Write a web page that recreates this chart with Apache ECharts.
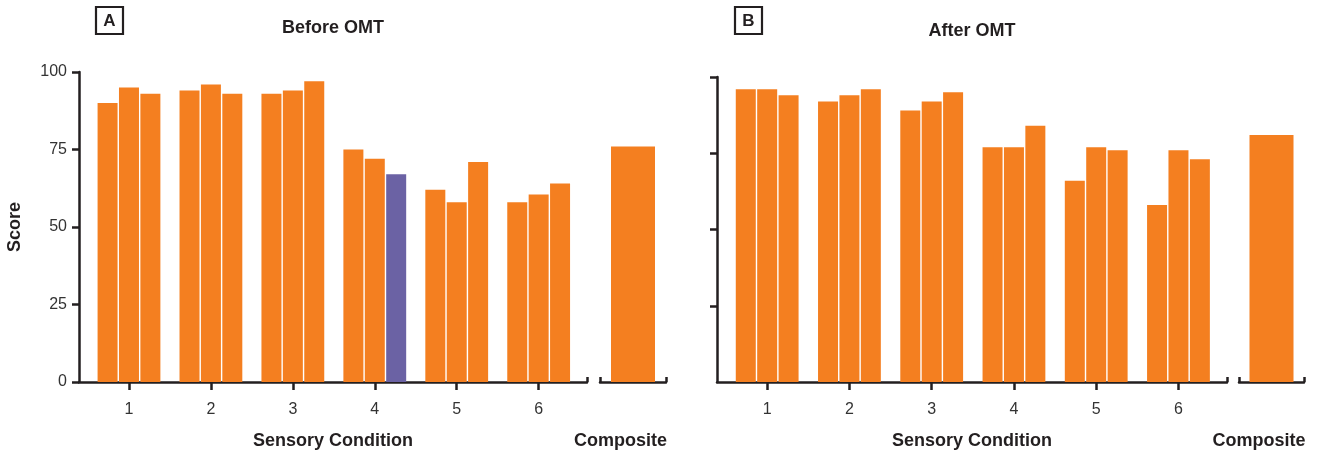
<!DOCTYPE html>
<html>
<head>
<meta charset="utf-8">
<script src="https://cdn.jsdelivr.net/npm/echarts@6/dist/echarts.min.js"></script>
<style>
  html, body { margin: 0; padding: 0; background: #fff; }
  #chart { width: 1318px; height: 455px; }
</style>
</head>
<body>
<div id="chart"></div>
<script>
// sensory conditions 1..6, three trials each
const conditions = [1, 2, 3, 4, 5, 6]
const beforeTrial1 = [90, 94, 93, 75, 62, 58]
const beforeTrial2 = [95, 96, 94, 72, 58, 60.5]
const beforeTrial3 = [93, 93, 97, 67, 71, 64]
const beforeComposite = [76]
const afterTrial1 = [96, 92, 89, 77, 66, 58]
const afterTrial2 = [96, 94, 92, 77, 77, 76]
const afterTrial3 = [94, 96, 95, 84, 76, 73]
const afterComposite = [81]
const scoreTicks = [0, 25, 50, 75, 100]
// bar drawn in purple: before OMT, condition 4, trial 3
const highlighted = { trial: 3, condition: 4 }

const ORANGE = '#F47F20'
const PURPLE = '#6B62A4'
const INK = '#231F20'
const FONT = 'Liberation Sans, Arial, sans-serif'
const LINE_W = 2.5

const chart = echarts.init(document.getElementById('chart'))

function trialData(values, trial, panel) {
  return values.map((v, i) => {
    const item = { value: [conditions[i], v] }
    if (panel === 'before' && trial === highlighted.trial && conditions[i] === highlighted.condition) {
      item.itemStyle = { color: PURPLE }
    }
    return item
  })
}

function mainX(gridIndex) {
  return {
    type: 'value', gridIndex, position: 'bottom',
    min: 0.39, max: 6.59,
    name: 'Sensory Condition', nameLocation: 'middle', nameGap: 50,
    nameTextStyle: { fontFamily: FONT, fontWeight: 'bold', fontSize: 18, color: INK },
    axisLine: { onZero: false, lineStyle: { color: INK, width: LINE_W } },
    axisTick: { customValues: conditions, length: 8, lineStyle: { color: INK, width: LINE_W } },
    axisLabel: { customValues: conditions, margin: 20, fontFamily: FONT, fontSize: 16, color: '#333' },
    splitLine: { show: false }
  }
}

// extra axis on the same grid that only draws the upward end tick
function endTickX(gridIndex) {
  return {
    type: 'value', gridIndex, position: 'bottom',
    min: 0.39, max: 6.59,
    axisLine: { show: false },
    axisTick: { inside: true, customValues: [6.59], length: 5, lineStyle: { color: INK, width: LINE_W } },
    axisLabel: { show: false },
    splitLine: { show: false }
  }
}

function compositeX(gridIndex) {
  return {
    type: 'category', gridIndex, position: 'bottom', data: ['Composite'], boundaryGap: true,
    name: 'Composite', nameLocation: 'middle', nameGap: 50,
    nameTextStyle: { fontFamily: FONT, fontWeight: 'bold', fontSize: 18, color: INK, padding: [0, 25, 0, 0] },
    axisLine: { show: true, onZero: false, lineStyle: { color: INK, width: LINE_W } },
    axisTick: { show: true, inside: true, interval: 0, alignWithLabel: false, length: 5,
      lineStyle: { color: INK, width: LINE_W } },
    axisLabel: { show: true, interval: 0, formatter: () => '' },
    splitLine: { show: false }
  }
}

function scoreY(gridIndex, visible, labels) {
  return {
    type: 'value', gridIndex, min: 0, max: 100, interval: 25,
    show: visible,
    name: labels ? 'Score' : '', nameLocation: 'middle', nameGap: 55,
    nameTextStyle: { fontFamily: FONT, fontWeight: 'bold', fontSize: 18, color: INK },
    axisLine: { show: true, lineStyle: { color: INK, width: LINE_W } },
    axisTick: { show: true, length: 7, lineStyle: { color: INK, width: LINE_W },
      customValues: labels ? scoreTicks : scoreTicks.slice(1) },
    axisLabel: { show: labels, margin: 12, fontFamily: FONT, fontSize: 16, color: '#333',
      formatter: v => scoreTicks.includes(v) ? String(v) : '' },
    splitLine: { show: false }
  }
}

function trialSeries(values, trial, panel, xAxisIndex, yAxisIndex) {
  return {
    type: 'bar', xAxisIndex, yAxisIndex,
    data: trialData(values, trial, panel),
    barWidth: 20, barGap: '7%',
    itemStyle: { color: ORANGE },
    silent: true
  }
}

function compositeSeries(values, xAxisIndex, yAxisIndex) {
  return {
    type: 'bar', xAxisIndex, yAxisIndex,
    data: values, barWidth: 44,
    itemStyle: { color: ORANGE },
    silent: true
  }
}

chart.setOption({
  animation: false,
  backgroundColor: '#fff',
  grid: [
    { left: 79, top: 72, width: 508, height: 311 },
    { left: 600, top: 72, width: 66, height: 311 },
    { left: 717, top: 77, width: 510, height: 311 },
    { left: 1239, top: 77, width: 65, height: 311 }
  ],
  xAxis: [
    mainX(0), endTickX(0), compositeX(1),
    mainX(2), endTickX(2), compositeX(3)
  ],
  yAxis: [
    scoreY(0, true, true), scoreY(1, false, false),
    scoreY(2, true, false), scoreY(3, false, false)
  ],
  series: [
    trialSeries(beforeTrial1, 1, 'before', 0, 0),
    trialSeries(beforeTrial2, 2, 'before', 0, 0),
    trialSeries(beforeTrial3, 3, 'before', 0, 0),
    compositeSeries(beforeComposite, 2, 1),
    trialSeries(afterTrial1, 1, 'after', 3, 2),
    trialSeries(afterTrial2, 2, 'after', 3, 2),
    trialSeries(afterTrial3, 3, 'after', 3, 2),
    compositeSeries(afterComposite, 5, 3)
  ],
  graphic: [
    { type: 'rect', shape: { x: 96, y: 7, width: 27, height: 27 },
      style: { fill: '#fff', stroke: INK, lineWidth: 2.2 } },
    { type: 'text', x: 109.5, y: 21,
      style: { text: 'A', font: 'bold 17px ' + FONT, fill: INK, align: 'center', verticalAlign: 'middle' } },
    { type: 'rect', shape: { x: 735, y: 7, width: 27, height: 27 },
      style: { fill: '#fff', stroke: INK, lineWidth: 2.2 } },
    { type: 'text', x: 748.5, y: 21,
      style: { text: 'B', font: 'bold 17px ' + FONT, fill: INK, align: 'center', verticalAlign: 'middle' } },
    { type: 'text', x: 333, y: 28,
      style: { text: 'Before OMT', font: 'bold 18px ' + FONT, fill: INK, align: 'center', verticalAlign: 'middle' } },
    { type: 'text', x: 972, y: 31,
      style: { text: 'After OMT', font: 'bold 18px ' + FONT, fill: INK, align: 'center', verticalAlign: 'middle' } }
  ]
})

window.addEventListener('resize', () => chart.resize())
</script>
</body>
</html>
